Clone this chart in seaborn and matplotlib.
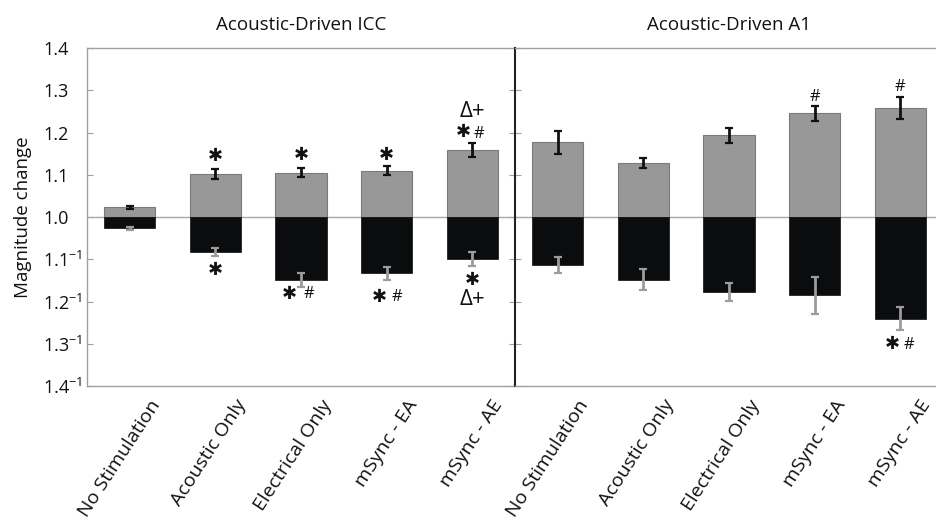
import matplotlib
matplotlib.use("Agg")
import matplotlib.pyplot as plt
from matplotlib.transforms import ScaledTranslation
import seaborn as sns
import pandas as pd

# Conditions shown on both panels
conditions = ["No Stimulation", "Acoustic Only", "Electrical Only", "mSync - EA", "mSync - AE"]
panel_titles = ["Acoustic-Driven ICC", "Acoustic-Driven A1"]

# Magnitude change (fold) for increasing and decreasing responses, with SEM
icc_increase = [1.023, 1.101, 1.105, 1.110, 1.159]
icc_increase_err = [0.003, 0.012, 0.011, 0.011, 0.016]
icc_decrease = [1.027, 1.083, 1.149, 1.133, 1.099]
icc_decrease_err = [0.003, 0.010, 0.017, 0.015, 0.016]

a1_increase = [1.177, 1.127, 1.193, 1.245, 1.258]
a1_increase_err = [0.027, 0.012, 0.018, 0.017, 0.027]
a1_decrease = [1.113, 1.148, 1.177, 1.185, 1.241]
a1_decrease_err = [0.019, 0.025, 0.021, 0.044, 0.027]

# Y axis tick values and labels (decreases shown as inverse fold change)
ytick_values = [-0.4, -0.3, -0.2, -0.1, 0.0, 0.1, 0.2, 0.3, 0.4]
ytick_labels = ["1.4$^{-1}$", "1.3$^{-1}$", "1.2$^{-1}$", "1.1$^{-1}$", "1.0", "1.1", "1.2", "1.3", "1.4"]

# Significance markers: (condition index, side, text, dx px, dy px from error-bar tip)
icc_marks = [
    (1, "up", "✱", 0, 13), (1, "down", "✱", 0, -14),
    (2, "up", "✱", 0, 13), (2, "down", "✱", -12, -7), (2, "down", "#", 8, -7),
    (3, "up", "✱", 0, 11), (3, "down", "✱", -7, -17), (3, "down", "#", 10, -17),
    (4, "up", "✱", -9, 11), (4, "up", "#", 7, 9), (4, "up", "Δ+", 0, 32),
    (4, "down", "✱", 0, -14), (4, "down", "Δ+", 0, -34),
]
a1_marks = [
    (3, "up", "#", 0, 9), (4, "up", "#", 0, 10),
    (4, "down", "✱", -8, -14), (4, "down", "#", 9, -15),
]
mark_style = {
    "✱": dict(fontsize=13, family=["DejaVu Sans"]),
    "#": dict(fontsize=12, family=["Open Sans", "DejaVu Sans"]),
    "Δ+": dict(fontsize=16, family=["Open Sans", "DejaVu Sans"]),
}

GRAY_BAR = "#989898"
BLACK_BAR = "#0a0c0e"
FRAME = "#a0a0a0"

sns.set_style("white")
plt.rcParams["font.family"] = ["Open Sans", "DejaVu Sans"]
plt.rcParams["mathtext.fontset"] = "custom"
plt.rcParams["mathtext.rm"] = "Open Sans"
plt.rcParams["mathtext.it"] = "Open Sans"
plt.rcParams["mathtext.bf"] = "Open Sans"

W, H = 936, 522
fig = plt.figure(figsize=(W / 100, H / 100), dpi=100)
ax_l, ax_b, ax_w, ax_h = 87, 136, 428, 338
ax1 = fig.add_axes([ax_l / W, ax_b / H, ax_w / W, ax_h / H])
ax2 = fig.add_axes([(ax_l + ax_w) / W, ax_b / H, ax_w / W, ax_h / H], sharey=ax1)

panels = [
    (ax1, icc_increase, icc_increase_err, icc_decrease, icc_decrease_err, icc_marks),
    (ax2, a1_increase, a1_increase_err, a1_decrease, a1_decrease_err, a1_marks),
]

for k, (ax, inc, inc_err, dec, dec_err, marks) in enumerate(panels):
    df = pd.DataFrame({
        "condition": conditions * 2,
        "direction": ["increase"] * len(conditions) + ["decrease"] * len(conditions),
        "delta": [v - 1 for v in inc] + [-(v - 1) for v in dec],
    })
    sns.barplot(data=df, x="condition", y="delta", hue="direction", order=conditions,
                hue_order=["increase", "decrease"], dodge=False, width=0.6,
                palette={"increase": GRAY_BAR, "decrease": BLACK_BAR},
                errorbar=None, legend=False, ax=ax, zorder=2)
    for p in ax.patches:
        if p.get_facecolor()[0] > 0.3:
            p.set_edgecolor("#7a7a7a")
            p.set_linewidth(0.8)
        else:
            p.set_edgecolor(BLACK_BAR)
            p.set_linewidth(0.5)

    xs = list(range(len(conditions)))
    up = [v - 1 for v in inc]
    down = [-(v - 1) for v in dec]
    ax.errorbar(xs, up, yerr=inc_err, fmt="none", ecolor="#111111",
                elinewidth=2.0, capsize=2.6, capthick=1.6, zorder=4)
    ax.errorbar(xs, down, yerr=dec_err, fmt="none", ecolor="#9c9c9c",
                elinewidth=2.0, capsize=2.6, capthick=1.6, zorder=4)

    ax.axhline(0, color="#a8a8a8", lw=1.0, zorder=1)

    for idx, side, txt, dx, dy in marks:
        if side == "up":
            tip = up[idx] + inc_err[idx]
        else:
            tip = down[idx] - dec_err[idx]
        ax.annotate(txt, xy=(idx, tip), xytext=(dx * 0.72, dy * 0.72),
                    textcoords="offset points", ha="center", va="center",
                    color="#111111", zorder=5, **mark_style[txt])

    ax.set_xlim(-0.5, len(conditions) - 0.5)
    ax.set_ylim(-0.4, 0.4)
    ax.set_xlabel("")
    ax.set_ylabel("")
    ax.set_title(panel_titles[k], fontsize=13.5, pad=13, color="#111111")

    ax.set_xticks(xs)
    ax.set_xticklabels(conditions, rotation=57, ha="right", rotation_mode="anchor",
                       va="center", fontsize=14, color="#111111")
    ax.tick_params(axis="x", length=0, pad=11)
    shift = ScaledTranslation(0.27, 0, fig.dpi_scale_trans)
    for lab in ax.get_xticklabels():
        lab.set_transform(lab.get_transform() + shift)

    for side in ["top", "bottom", "left", "right"]:
        ax.spines[side].set_color(FRAME)
        ax.spines[side].set_linewidth(1.0)

ax1.set_yticks(ytick_values)
ax1.set_yticklabels(ytick_labels, fontsize=13, color="#111111")
for lab in ax1.get_yticklabels():
    lab.set_horizontalalignment("left")
ax1.tick_params(axis="y", direction="in", length=4, width=0.8, color=FRAME, pad=31.5, left=True)
ax1.spines["right"].set_visible(False)
ax1.set_ylabel("Magnitude change", fontsize=13.5, color="#111111")
ax1.yaxis.set_label_coords(-55 / ax_w, 0.5)

ax2.spines["left"].set_color("#222222")
ax2.spines["left"].set_linewidth(1.5)
ax2.tick_params(axis="y", direction="inout", length=9, width=0.8, color=FRAME,
                labelleft=False, left=True)

fig.savefig("out.png", dpi=100)
